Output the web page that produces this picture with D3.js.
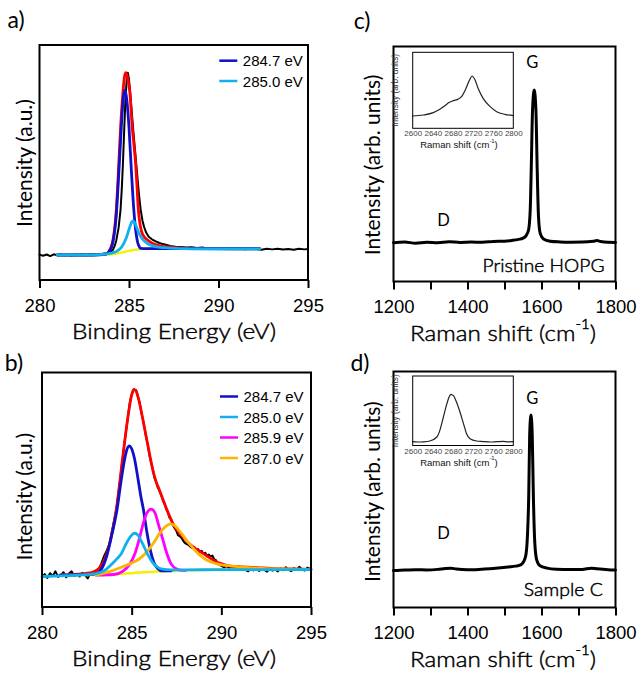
<!DOCTYPE html>
<html>
<head>
<meta charset="utf-8">
<script src="https://cdn.jsdelivr.net/npm/d3@7/dist/d3.min.js"></script>
<style>
  body { margin: 0; background: #fff; }
  svg { display: block; }
</style>
</head>
<body>
<div class="chart"></div>
<script>
// ---- data ----
var xpsTicks = [280, 285, 290, 295];
var ramanTicks = [1200, 1300, 1400, 1500, 1600, 1700, 1800];
var insetTicks = [2600, 2640, 2680, 2720, 2760, 2800];

var legendA = ["284.7 eV", "285.0 eV"];
var legendB = ["284.7 eV", "285.0 eV", "285.9 eV", "287.0 eV"];

// a) XPS C1s, pristine HOPG  [binding energy, intensity]
var aBlack = [[280.0,0.002],[280.2,-0.004],[280.4,0.003],[280.6,-0.006],[280.8,0.004],[281.0,-0.002],[281.2,0.005],[281.4,-0.003],[281.6,0.002],[281.8,-0.005],[282.0,0.003],[282.2,0.0],[282.4,0.004],[282.6,-0.002],[282.8,0.005],[283.0,0.002],[283.2,0.006],[283.4,0.004],[283.6,0.008],[283.8,0.01],[283.95,0.015],[284.1,0.028],[284.2,0.05],[284.29,0.08],[284.42,0.15],[284.53,0.25],[284.6,0.37],[284.66,0.5],[284.73,0.68],[284.8,0.85],[284.87,0.96],[284.93,1.0],[284.99,0.97],[285.06,0.9],[285.15,0.79],[285.25,0.67],[285.35,0.56],[285.45,0.45],[285.55,0.34],[285.65,0.25],[285.75,0.19],[285.84,0.155],[285.95,0.125],[286.1,0.1],[286.3,0.085],[286.5,0.075],[286.7,0.066],[286.9,0.06],[287.1,0.055],[287.3,0.05],[287.6,0.046],[287.9,0.044],[288.2,0.041],[288.5,0.043],[288.8,0.038],[289.1,0.041],[289.4,0.036],[289.7,0.039],[290.0,0.035],[290.3,0.038],[290.6,0.033],[290.9,0.037],[291.2,0.034],[291.5,0.031],[291.8,0.036],[292.1,0.033],[292.4,0.029],[292.7,0.034],[293.0,0.031],[293.3,0.035],[293.6,0.03],[293.9,0.033],[294.2,0.029],[294.5,0.034],[294.8,0.031],[295.0,0.033]];
var aRed = [[281.0,0.0],[282.5,0.0],[283.5,0.003],[283.7,0.005],[283.88,0.02],[284.1,0.08],[284.29,0.247],[284.43,0.5],[284.53,0.7],[284.66,0.89],[284.75,0.98],[284.83,1.0],[284.93,0.97],[285.05,0.89],[285.18,0.7],[285.28,0.6],[285.37,0.5],[285.45,0.37],[285.52,0.25],[285.6,0.18],[285.7,0.13],[285.85,0.1],[286.0,0.085],[286.3,0.065],[286.7,0.052],[287.2,0.044],[288.0,0.038],[290.0,0.035],[292.3,0.034]];
var aBlue = [[281.0,0.0],[283.0,0.0],[283.7,0.005],[283.9,0.02],[284.1,0.07],[284.29,0.22],[284.43,0.45],[284.57,0.7],[284.68,0.86],[284.78,0.905],[284.88,0.85],[285.0,0.7],[285.14,0.45],[285.27,0.247],[285.37,0.14],[285.46,0.08],[285.55,0.05],[285.65,0.037],[286.0,0.035],[289.0,0.035],[292.3,0.035]];
var aCyan = [[281.0,0.0],[282.5,0.0],[283.5,0.003],[284.0,0.01],[284.3,0.02],[284.6,0.045],[284.85,0.095],[285.05,0.155],[285.16,0.182],[285.24,0.187],[285.33,0.175],[285.45,0.145],[285.6,0.11],[285.75,0.088],[285.93,0.07],[286.2,0.055],[286.49,0.046],[287.0,0.04],[287.6,0.036],[288.5,0.034],[290.0,0.033],[292.3,0.033]];
var aYellow = [[281.0,0.0],[283.5,0.0],[283.9,0.003],[284.3,0.008],[284.7,0.016],[285.1,0.025],[285.5,0.031],[286.0,0.034],[288.0,0.035],[292.3,0.035]];

// b) XPS C1s, sample C
var bBlack = [[280.0,-0.01],[280.15,0.005],[280.3,-0.015],[280.45,0.01],[280.6,-0.005],[280.75,0.02],[280.9,-0.01],[281.05,0.0],[281.2,0.015],[281.35,-0.012],[281.5,0.008],[281.65,0.02],[281.8,-0.005],[281.95,0.005],[282.1,-0.008],[282.25,0.012],[282.4,0.0],[282.55,-0.018],[282.7,0.01],[282.85,0.005],[283.0,0.018],[283.15,0.03],[283.3,0.06],[283.45,0.1],[283.6,0.13],[283.77,0.17],[283.95,0.26],[284.14,0.35],[284.3,0.47],[284.51,0.64],[284.65,0.75],[284.79,0.85],[284.9,0.93],[285.0,0.97],[285.12,1.0],[285.25,0.995],[285.35,0.96],[285.44,0.93],[285.55,0.87],[285.62,0.84],[285.72,0.79],[285.81,0.74],[285.9,0.7],[286.0,0.64],[286.1,0.6],[286.18,0.57],[286.28,0.52],[286.37,0.5],[286.46,0.47],[286.55,0.455],[286.65,0.43],[286.75,0.4],[286.85,0.38],[286.93,0.355],[287.02,0.34],[287.1,0.31],[287.2,0.3],[287.29,0.27],[287.38,0.255],[287.48,0.24],[287.58,0.215],[287.67,0.21],[287.78,0.2],[287.9,0.18],[288.0,0.17],[288.1,0.165],[288.2,0.16],[288.3,0.15],[288.4,0.145],[288.5,0.15],[288.6,0.135],[288.7,0.14],[288.8,0.125],[288.9,0.13],[289.0,0.115],[289.1,0.12],[289.2,0.105],[289.3,0.11],[289.4,0.1],[289.5,0.105],[289.6,0.085],[289.7,0.08],[289.8,0.06],[289.9,0.055],[290.0,0.05],[290.15,0.042],[290.3,0.048],[290.45,0.038],[290.6,0.044],[290.75,0.035],[290.9,0.041],[291.05,0.03],[291.2,0.038],[291.35,0.027],[291.5,0.02],[291.65,0.036],[291.8,0.025],[291.95,0.04],[292.1,0.022],[292.25,0.033],[292.4,0.028],[292.55,0.018],[292.7,0.035],[292.85,0.024],[293.0,0.03],[293.15,0.02],[293.3,0.036],[293.45,0.026],[293.6,0.042],[293.75,0.028],[293.9,0.022],[294.05,0.038],[294.2,0.027],[294.35,0.045],[294.5,0.03],[294.65,0.024],[294.8,0.04],[295.0,0.032]];
var bRed = [[281.0,0.0],[282.0,0.005],[282.8,0.015],[283.3,0.05],[283.77,0.17],[284.14,0.35],[284.51,0.64],[284.79,0.85],[285.0,0.97],[285.12,1.0],[285.25,0.99],[285.44,0.925],[285.62,0.84],[285.81,0.745],[286.0,0.65],[286.18,0.565],[286.37,0.5],[286.55,0.457],[286.75,0.405],[286.93,0.36],[287.1,0.32],[287.29,0.28],[287.48,0.25],[287.67,0.226],[287.9,0.2],[288.2,0.17],[288.6,0.14],[288.96,0.118],[289.4,0.09],[289.9,0.064],[290.4,0.05],[291.0,0.045],[292.0,0.04],[293.0,0.035],[294.0,0.033],[295.0,0.03]];
var bBlue = [[281.0,0.0],[283.0,0.005],[283.3,0.03],[283.6,0.1],[283.9,0.22],[284.18,0.35],[284.4,0.5],[284.6,0.62],[284.75,0.68],[284.88,0.695],[285.0,0.68],[285.15,0.63],[285.35,0.52],[285.5,0.43],[285.66,0.35],[285.85,0.23],[286.05,0.13],[286.25,0.065],[286.45,0.035],[286.7,0.022],[287.2,0.022]];
var bCyan = [[280.0,-0.008],[281.0,-0.004],[282.0,0.0],[283.0,0.008],[283.5,0.025],[283.9,0.06],[284.2,0.09],[284.42,0.115],[284.7,0.17],[284.95,0.21],[285.16,0.225],[285.35,0.215],[285.6,0.17],[285.9,0.11],[286.15,0.07],[286.4,0.045],[286.7,0.032],[287.2,0.028],[288.0,0.028],[290.0,0.029],[292.0,0.029],[295.0,0.03]];
var bMagenta = [[283.0,0.0],[284.0,0.003],[284.5,0.02],[284.9,0.06],[285.2,0.12],[285.44,0.2],[285.65,0.28],[285.85,0.335],[286.09,0.355],[286.3,0.335],[286.5,0.27],[286.74,0.19],[286.95,0.12],[287.2,0.06],[287.45,0.035],[287.8,0.025],[288.0,0.025]];
var bOrange = [[283.0,0.0],[283.8,0.02],[284.5,0.045],[285.0,0.065],[285.4,0.085],[285.8,0.12],[286.2,0.17],[286.6,0.23],[286.9,0.262],[287.17,0.275],[287.45,0.262],[287.8,0.22],[288.2,0.17],[288.77,0.11],[289.2,0.08],[289.7,0.062],[290.6,0.048],[291.5,0.04],[292.5,0.035],[293.5,0.033],[295.0,0.03]];
var bYellow = [[281.0,0.0],[283.0,0.0],[284.0,0.004],[285.0,0.01],[286.0,0.017],[287.0,0.022],[288.0,0.026],[289.0,0.028],[291.0,0.03],[295.0,0.03]];

// c) / d) Raman spectra  [Raman shift, intensity]
var cRaman = [[1200,0.0],[1230,0.004],[1260,-0.003],[1290,0.003],[1320,0.0],[1350,0.006],[1380,0.002],[1410,0.004],[1440,0.003],[1470,0.008],[1500,0.01],[1520,0.015],[1538,0.022],[1550,0.03],[1558,0.045],[1565,0.083],[1569.5,0.214],[1572.2,0.476],[1575.8,0.869],[1580.3,1.0],[1584.9,0.869],[1588.4,0.476],[1591.9,0.17],[1596.5,0.061],[1605.4,0.025],[1623.5,0.01],[1650,0.005],[1680,0.003],[1710,0.004],[1740,0.01],[1750,0.014],[1760,0.008],[1780,0.003],[1800,0.002]];
var dRaman = [[1200,-0.004],[1230,0.0],[1260,0.002],[1290,0.0],[1320,0.004],[1340,0.01],[1355,0.012],[1370,0.006],[1400,0.002],[1430,0.004],[1460,0.008],[1490,0.015],[1510,0.02],[1530,0.025],[1545,0.035],[1552,0.055],[1558,0.1],[1562,0.22],[1565.5,0.48],[1568,0.87],[1571.5,1.0],[1575,0.87],[1578,0.48],[1582,0.17],[1587,0.065],[1596,0.027],[1615,0.012],[1640,0.005],[1680,0.003],[1710,0.004],[1735,0.012],[1750,0.008],[1780,0.002],[1800,0.0]];

// insets: 2D band
var cInset = [[2600,0.0],[2621,0.025],[2641,0.083],[2654,0.167],[2664,0.258],[2673,0.342],[2681,0.383],[2691,0.425],[2697,0.483],[2706,0.692],[2713,0.9],[2718,1.0],[2724,0.9],[2730,0.692],[2740,0.442],[2754,0.233],[2767,0.108],[2783,0.042],[2800,0.008]];
var dInset = [[2600,0.007],[2610,0.0],[2621,0.004],[2634,0.021],[2648,0.105],[2654,0.245],[2661,0.524],[2668,0.804],[2673,0.958],[2676,1.0],[2681,0.972],[2687,0.839],[2694,0.629],[2701,0.385],[2707,0.175],[2714,0.07],[2727,0.021],[2740,0.01],[2754,0.0],[2767,0.007],[2780,0.014],[2790,0.004],[2800,0.007]];

var svgWidth = 643;
var svgHeight = 678;
var titleFont = "Lato, sans-serif";
var tickFont = "'Liberation Sans', Arial, sans-serif";

var col = {
  black: "#000000",
  red: "#ff0000",
  blue: "#1010c8",
  cyan: "#10b0ec",
  magenta: "#ff00ff",
  orange: "#ffb400",
  yellow: "#f2f200"
};

var svg = d3.select(".chart")
  .append("svg")
  .attr("width", svgWidth)
  .attr("height", svgHeight);

// one framed panel with bottom axis
function makePanel(box, xDomain, yDomain, ticks, showLabel) {
  var x = d3.scaleLinear().domain(xDomain).range([box.left, box.right]);
  var y = d3.scaleLinear().domain(yDomain).range([box.bottom, box.top]);

  var axis = d3.axisBottom(x)
    .tickValues(ticks)
    .tickSize(8)
    .tickPadding(10.5)
    .tickFormat(d => showLabel(d) ? String(d) : "");

  var gx = svg.append("g")
    .attr("transform", `translate(0, ${box.bottom})`)
    .call(axis);
  gx.select(".domain").remove();
  gx.selectAll("line").attr("stroke", "#000").attr("stroke-width", 2);
  gx.selectAll("text")
    .attr("font-family", tickFont)
    .attr("font-size", 18.5)
    .attr("fill", "#000");

  return { x: x, y: y, box: box };
}

function frame(box, w) {
  svg.append("rect")
    .attr("x", box.left)
    .attr("y", box.top)
    .attr("width", box.right - box.left)
    .attr("height", box.bottom - box.top)
    .attr("fill", "none")
    .attr("stroke", "#000")
    .attr("stroke-width", w);
}

function drawLine(p, data, color, width, curve) {
  var line = d3.line()
    .x(d => p.x(d[0]))
    .y(d => p.y(d[1]))
    .curve(curve || d3.curveLinear);
  svg.append("path")
    .datum(data)
    .attr("d", line)
    .attr("fill", "none")
    .attr("stroke", color)
    .attr("stroke-width", width)
    .attr("stroke-linejoin", "round")
    .attr("stroke-linecap", "round");
}

// stretched titles use the light face plus a hairline stroke,
// so they keep a regular-looking weight after widening
function stretch(t, len) {
  t.attr("font-weight", 300)
    .attr("stroke", "#000")
    .attr("stroke-width", 0.45)
    .attr("textLength", len)
    .attr("lengthAdjust", "spacingAndGlyphs");
}

function label(x, y, str, size, family, rotate, len) {
  var t = svg.append("text")
    .attr("text-anchor", "middle")
    .attr("dominant-baseline", "central")
    .attr("font-family", family)
    .attr("font-size", size)
    .attr("font-weight", 400)
    .attr("fill", "#000")
    .attr("transform", `translate(${x}, ${y})` + (rotate ? " rotate(-90)" : ""))
    .text(str);
  if (len) stretch(t, len);
  return t;
}

function ramanTitle(x, y, size, family, fill, len) {
  var t = svg.append("text")
    .attr("text-anchor", "middle")
    .attr("dominant-baseline", "central")
    .attr("font-family", family)
    .attr("font-size", size)
    .attr("font-weight", 400)
    .attr("fill", fill || "#000")
    .attr("transform", `translate(${x}, ${y})`);
  t.append("tspan").text("Raman shift (cm");
  t.append("tspan").attr("font-size", size * 0.62).attr("dy", -size * 0.38).text("-1");
  t.append("tspan").attr("dy", size * 0.38).text(")");
  if (len) stretch(t, len);
}

function legend(items, colors, x0, y0, step) {
  items.forEach(function(txt, i) {
    var yy = y0 + i * step;
    svg.append("line")
      .attr("x1", x0).attr("x2", x0 + 18)
      .attr("y1", yy).attr("y2", yy)
      .attr("stroke", colors[i]).attr("stroke-width", 2.5);
    svg.append("text")
      .attr("x", x0 + 23.5).attr("y", yy)
      .attr("dominant-baseline", "central")
      .attr("font-family", tickFont)
      .attr("font-size", 15)
      .attr("fill", "#000")
      .text(txt);
  });
}

function inset(box, data, yDomain) {
  var x = d3.scaleLinear().domain([2600, 2800]).range([box.left, box.right]);
  var y = d3.scaleLinear().domain(yDomain).range([box.bottom, box.top]);
  var gx = svg.append("g")
    .attr("transform", `translate(0, ${box.bottom})`)
    .call(d3.axisBottom(x).tickValues(insetTicks).tickSize(0).tickPadding(2.5).tickFormat(d => String(d)));
  gx.select(".domain").remove();
  gx.selectAll("text")
    .attr("font-family", tickFont)
    .attr("font-size", 8)
    .attr("fill", "#444");
  drawLine({ x: x, y: y }, data, "#222", 1.2, d3.curveMonotoneX);
  frame(box, 1);
  ramanTitle((box.left + box.right) / 2 - 4, box.bottom + 16, 9.5, tickFont, "#111");
  label(box.left - 17.5, (box.top + box.bottom) / 2, "Intensity (arb. units)", 8.3, tickFont, true)
    .attr("fill", "#333");
}

// ---------- a) ----------
var pa = makePanel({ left: 39.5, right: 308, top: 45, bottom: 280 }, [280, 295], [-0.137, 1.152], xpsTicks, d => true);
drawLine(pa, aBlack, col.black, 2);
drawLine(pa, aYellow, col.yellow, 2.5, d3.curveMonotoneX);
drawLine(pa, aRed, col.red, 2.8, d3.curveMonotoneX);
drawLine(pa, aBlue, col.blue, 2.8, d3.curveMonotoneX);
drawLine(pa, aCyan, col.cyan, 2.8, d3.curveMonotoneX);
frame(pa.box, 2);
legend(legendA, [col.blue, col.cyan], 219.3, 60.7, 20.3);
label(16, 19, "a)", 23, titleFont);
label(23.5, 163, "Intensity (a.u.)", 21, titleFont, true);
label(174, 330, "Binding Energy (eV)", 21, titleFont, false, 204);

// ---------- b) ----------
var pb = makePanel({ left: 42, right: 311, top: 372.5, bottom: 607 }, [280, 295], [-0.172, 1.0905], xpsTicks, d => true);
drawLine(pb, bBlack, col.black, 2);
drawLine(pb, bRed, col.red, 2.8, d3.curveMonotoneX);
drawLine(pb, bYellow, col.yellow, 2.5, d3.curveMonotoneX);
drawLine(pb, bBlue, col.blue, 2.8, d3.curveMonotoneX);
drawLine(pb, bMagenta, col.magenta, 2.8, d3.curveMonotoneX);
drawLine(pb, bOrange, col.orange, 2.8, d3.curveMonotoneX);
drawLine(pb, bCyan, col.cyan, 2.8, d3.curveMonotoneX);
frame(pb.box, 2);
legend(legendB, [col.blue, col.cyan, col.magenta, col.orange], 220, 396.5, 20.5);
label(14, 362, "b)", 23, titleFont);
label(23.5, 496.7, "Intensity (a.u.)", 21, titleFont, true);
label(174, 657, "Binding Energy (eV)", 21, titleFont, false, 204);

// ---------- c) ----------
var pc = makePanel({ left: 393.5, right: 615.5, top: 46.5, bottom: 281.5 }, [1200, 1800], [-0.254, 1.285], ramanTicks, d => d % 200 === 0);
drawLine(pc, cRaman, col.black, 3, d3.curveMonotoneX);
frame(pc.box, 2);
inset({ left: 412.7, right: 513.3, top: 52.3, bottom: 128.3 }, cInset, [-0.3075, 1.5925]);
label(pc.x(1335), pc.y(0.149), "D", 16.5, titleFont);
label(pc.x(1575), pc.y(1.185), "G", 16.5, titleFont);
label(543.5, 265, "Pristine HOPG", 18, titleFont, false, 122);
label(362, 20, "c)", 23, titleFont);
label(371.7, 165, "Intensity (arb. units)", 21, titleFont, true);
ramanTitle(503, 332, 21, titleFont, "#000", 186);

// ---------- d) ----------
var pd = makePanel({ left: 393.5, right: 615.5, top: 371.5, bottom: 607.5 }, [1200, 1800], [-0.242, 1.281], ramanTicks, d => d % 200 === 0);
drawLine(pd, dRaman, col.black, 3, d3.curveMonotoneX);
frame(pd.box, 2);
inset({ left: 412.7, right: 513.3, top: 376, bottom: 445.5 }, dInset, [-0.073, 1.384]);
label(pd.x(1335), pd.y(0.237), "D", 16.5, titleFont);
label(pd.x(1575), pd.y(1.108), "G", 16.5, titleFont);
label(563.3, 589.3, "Sample C", 18, titleFont, false, 79);
label(360, 362, "d)", 23, titleFont);
label(371.7, 491.7, "Intensity (arb. units)", 21, titleFont, true);
ramanTitle(503, 658.3, 21, titleFont, "#000", 186);
</script>
</body>
</html>
